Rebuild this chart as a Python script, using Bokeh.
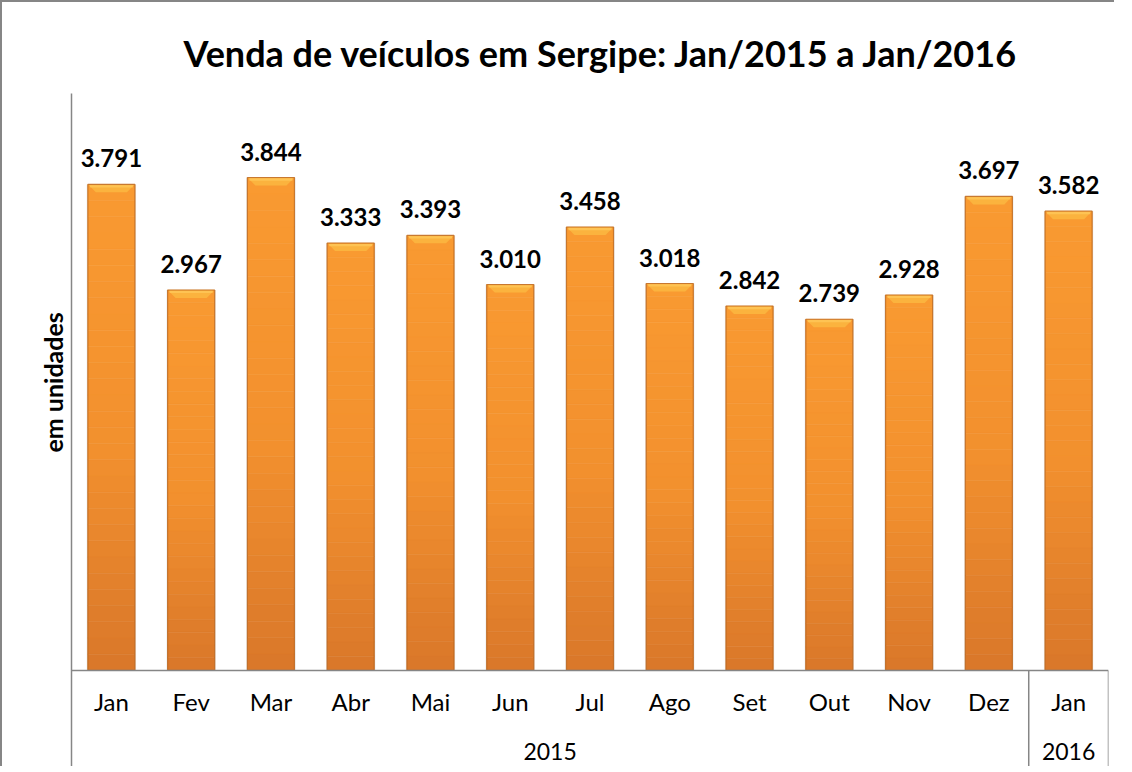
from bokeh.plotting import figure
from bokeh.models import Range1d, FixedTicker, Title
from bokeh.embed import file_html
from bokeh.resources import INLINE
from bokeh.core.properties import value

months = ["Jan", "Fev", "Mar", "Abr", "Mai", "Jun", "Jul", "Ago", "Set", "Out", "Nov", "Dez", "Jan"]
years = ["2015", "2016"]
year_counts = [12, 1]
sales = [3791, 2967, 3844, 3333, 3393, 3010, 3458, 3018, 2842, 2739, 2928, 3697, 3582]
title_text = "Venda de veículos em Sergipe: Jan/2015 a Jan/2016"
y_label = "em unidades"
y_max = 4500

FONT = "Lato"
GRAY = "#868686"
W, H = 1114, 766
n = len(months)

p = figure(width=W, height=H, output_backend="svg", toolbar_location=None,
           x_range=Range1d(0, n), y_range=Range1d(-765, y_max),
           x_axis_location=None, min_border_left=69, min_border_right=8,
           min_border_top=91, min_border_bottom=0)
p.outline_line_color = None
p.xgrid.visible = False
p.ygrid.visible = False
p.background_fill_color = "white"
p.border_fill_color = "white"

p.title.text = title_text
p.title.align = "left"
p.title.offset = 112
p.title.text_font = FONT
p.title.text_font_style = "bold"
p.title.text_font_size = "36px"
p.title.text_color = "black"
p.title.standoff = 37

yax = p.yaxis[0]
yax.ticker = FixedTicker(ticks=[])
yax.axis_line_color = GRAY
yax.axis_line_width = 1.5
yax.major_tick_line_color = None
yax.minor_tick_line_color = None

p.add_layout(Title(text=y_label, align="left", offset=316, standoff=7, text_font=FONT,
                   text_font_style="bold", text_font_size="25px", text_color="black"), "left")

# bars with vertical gradient bands
xc = [i + 0.5 for i in range(n)]
bw = 0.59


def lerp(c1, c2, t):
    a = [int(c1[i:i + 2], 16) for i in (1, 3, 5)]
    b = [int(c2[i:i + 2], 16) for i in (1, 3, 5)]
    return "#%02x%02x%02x" % tuple(round(a[k] + (b[k] - a[k]) * t) for k in range(3))


def grad(t):
    if t < 0.55:
        return lerp("#F99A31", "#F2902E", t / 0.55)
    return lerp("#F2902E", "#D9772A", (t - 0.55) / 0.45)


NB = 30
bx, btop, bbot, bcol = [], [], [], []
for i, v in enumerate(sales):
    for k in range(NB):
        bx.append(xc[i])
        btop.append(v * (1 - k / NB))
        bbot.append(v * (1 - (k + 1) / NB))
        bcol.append(grad((k + 0.5) / NB))

# soft shadow
p.vbar(x=xc, top=sales, bottom=0, width=bw + 0.03, fill_color="black", fill_alpha=0.08, line_color=None)
p.vbar(x=bx, top=btop, bottom=bbot, width=bw, fill_color=bcol, line_color=bcol, line_width=0.5)
# darker edges
p.vbar(x=xc, top=sales, bottom=0, width=bw, fill_color=None, line_color="#B8661F", line_alpha=0.75, line_width=1.2)

# top bevel
dx = 0.1
dy = 62
bxs, bys = [], []
for i, v in enumerate(sales):
    x0, x1 = xc[i] - bw / 2, xc[i] + bw / 2
    bxs.append([x0 + 0.01, x1 - 0.01, x1 - dx, x0 + dx])
    bys.append([v - 5, v - 5, v - dy, v - dy])
p.patches(xs=bxs, ys=bys, fill_color="#FBB43F", fill_alpha=0.95, line_color=None)
p.vbar(x=xc, top=[v - 6 for v in sales], bottom=[v - 24 for v in sales], width=bw - 0.05,
       fill_color="#FFCB5C", fill_alpha=0.7, line_color=None)

# data labels
labels = [f"{v:,}".replace(",", ".") for v in sales]
p.text(x=xc, y=sales, text=labels, y_offset=-26, text_align="center", text_baseline="alphabetic",
       text_font=value(FONT), text_font_style="bold", text_font_size="24px", text_color="black")

# category axis drawn by hand
ybot = p.y_range.start
p.segment(x0=[0], y0=[0], x1=[n], y1=[0], line_color=GRAY, line_width=1.5)
bounds = []
acc = 0
for c in year_counts:
    acc += c
    bounds.append(acc)
p.segment(x0=bounds, y0=[0] * len(bounds), x1=bounds, y1=[ybot] * len(bounds), line_color=GRAY, line_width=1.5)

p.text(x=xc, y=[0] * n, text=months, y_offset=31, text_align="center", text_baseline="alphabetic",
       text_font=value(FONT), text_font_size="24px", text_color="black")
ycent = []
start = 0
for c in year_counts:
    ycent.append(start + c / 2)
    start += c
p.text(x=ycent, y=[0] * len(years), text=years, y_offset=81, text_align="center", text_baseline="alphabetic",
       text_font=value(FONT), text_font_size="23px", text_color="black")

p.styles = {"border-top": "2px solid #868686", "border-left": "2px solid #868686"}

open("out.html", "w").write(file_html(p, INLINE))
